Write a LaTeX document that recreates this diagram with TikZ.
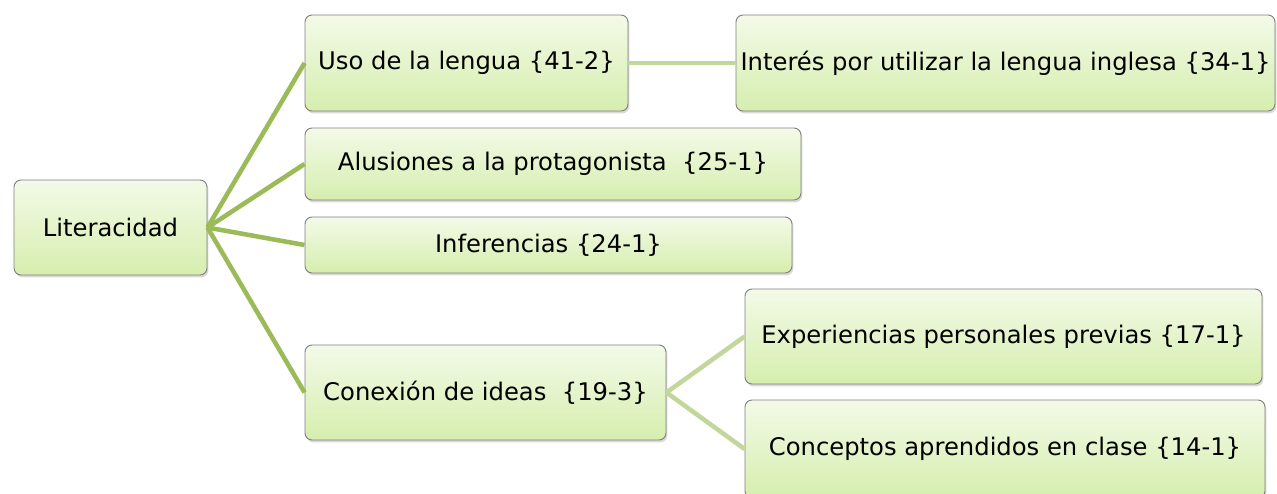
\documentclass[tikz,border=0pt]{standalone}
\usepackage{fontspec}
\setmainfont{DejaVu Sans}
\usetikzlibrary{shadows}

\definecolor{borde}{HTML}{7F7F7F}
\definecolor{hojaarriba}{HTML}{F3FAE8}
\definecolor{hojaabajo}{HTML}{D6EEAE}
\definecolor{ramaoscura}{HTML}{9BBB59}
\definecolor{ramaclara}{HTML}{C3D69B}

\begin{document}
\begin{tikzpicture}[x=0.03cm, y=-0.03cm,
  caja/.style={draw=borde, line width=0.8pt, rounded corners=6pt,
    top color=hojaarriba, bottom color=hojaabajo, inner sep=0pt,
    font=\fontsize{20.7}{24}\selectfont,
    drop shadow={shadow xshift=1.2pt, shadow yshift=-2pt, opacity=0.3}},
  rama/.style={line width=3.9pt, color=ramaoscura},
  subrama/.style={line width=3.9pt, color=ramaclara}]

\useasboundingbox (0,0) rectangle (1277,493);

% raiz
\node[caja, minimum width=193*0.03cm, minimum height=95*0.03cm] (lit) at (110.5,227.5) {Literacidad};

% primer nivel
\node[caja, minimum width=323*0.03cm, minimum height=96*0.03cm] (uso) at (466.5,63) {Uso de la lengua \{41-2\}};
\node[caja, minimum width=496*0.03cm, minimum height=72*0.03cm] (alu) at (553,164) {Alusiones a la protagonista\ \ \{25-1\}};
\node[caja, minimum width=487*0.03cm, minimum height=56*0.03cm] (inf) at (548.5,245) {Inferencias \{24-1\}};
\node[caja, minimum width=361*0.03cm, minimum height=95*0.03cm] (con) at (485.5,392.5) {Conexión de ideas\ \ \{19-3\}};

% segundo nivel
\node[caja, minimum width=539*0.03cm, minimum height=96*0.03cm] (int) at (1005.5,63) {Interés por utilizar la lengua inglesa \{34-1\}};
\node[caja, minimum width=517*0.03cm, minimum height=95*0.03cm] (exp) at (1003.5,336.5) {Experiencias personales previas \{17-1\}};
\node[caja, minimum width=520*0.03cm, minimum height=98*0.03cm] (cpt) at (1005,449) {Conceptos aprendidos en clase \{14-1\}};

\draw[rama] (lit.east) -- (uso.west);
\draw[rama] (lit.east) -- (alu.west);
\draw[rama] (lit.east) -- (inf.west);
\draw[rama] (lit.east) -- (con.west);

\draw[subrama] (uso.east) -- (int.west);
\draw[subrama] (con.east) -- (exp.west);
\draw[subrama] (con.east) -- (cpt.west);

\end{tikzpicture}
\end{document}
